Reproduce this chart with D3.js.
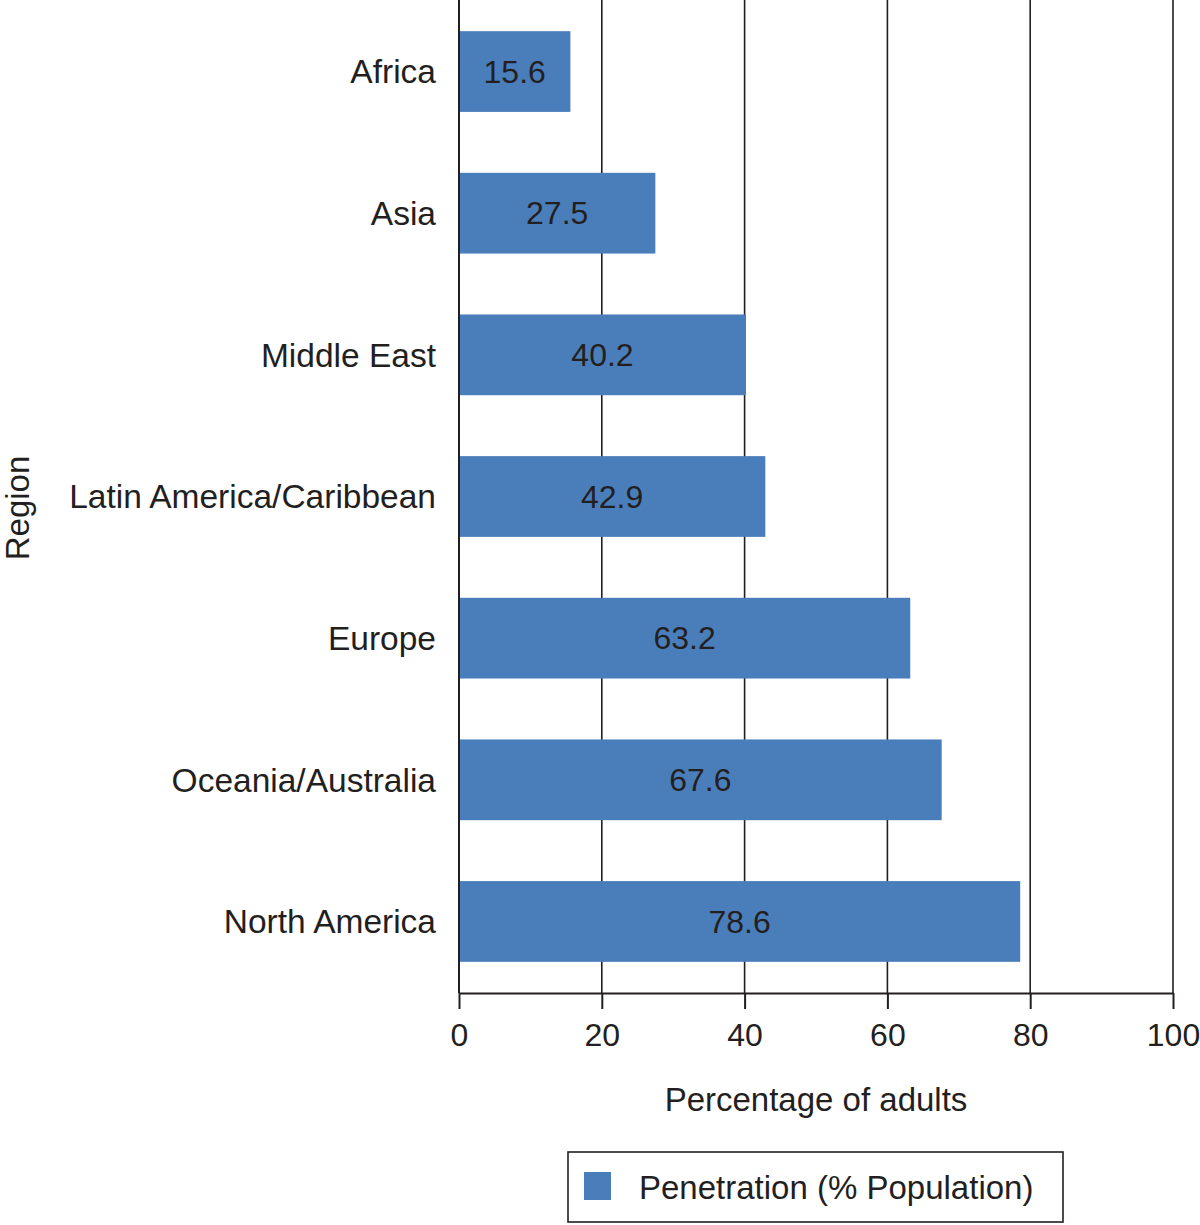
<!DOCTYPE html>
<html>
<head>
<meta charset="utf-8">
<script src="https://cdn.jsdelivr.net/npm/d3@7"></script>
<style>
  body { margin: 0; background: #fff; }
  svg { display: block; font-family: "Liberation Sans", Arial, sans-serif; }
</style>
</head>
<body>
<svg></svg>
<script>
// data
var regions = ['Africa', 'Asia', 'Middle East', 'Latin America/Caribbean', 'Europe', 'Oceania/Australia', 'North America'];
var penetration = [15.6, 27.5, 40.2, 42.9, 63.2, 67.6, 78.6];
var xTicks = [0, 20, 40, 60, 80, 100];
var seriesName = 'Penetration (% Population)';

var W = 1200, H = 1225;
var plotLeft = 459, plotRight = 1173, plotTop = 0, plotBottom = 993;
var barColor = '#4a7ebb';
var ink = '#231f20';

var svg = d3.select('svg').attr('width', W).attr('height', H);

var x = d3.scaleLinear().domain([0, 100]).range([plotLeft, plotRight]);
var y = d3.scaleBand().domain(regions).range([plotTop, plotBottom])
  .paddingInner(0.43).paddingOuter(0.22);

// vertical grid lines
svg.append('g').selectAll('line').data(xTicks).enter().append('line')
  .attr('x1', function(d) { return x(d); })
  .attr('x2', function(d) { return x(d); })
  .attr('y1', plotTop).attr('y2', plotBottom)
  .attr('stroke', ink).attr('stroke-width', 1.6);

// bars
var rows = regions.map(function(r, i) { return {region: r, value: penetration[i]}; });
svg.append('g').selectAll('rect').data(rows).enter().append('rect')
  .attr('x', x(0))
  .attr('y', function(d) { return y(d.region); })
  .attr('width', function(d) { return x(d.value) - x(0); })
  .attr('height', y.bandwidth())
  .attr('fill', barColor);

// value labels
svg.append('g').selectAll('text').data(rows).enter().append('text')
  .attr('x', function(d) { return (x(0) + x(d.value)) / 2; })
  .attr('y', function(d) { return y(d.region) + y.bandwidth() / 2; })
  .attr('dy', '0.35em')
  .attr('text-anchor', 'middle')
  .attr('font-size', 32)
  .attr('fill', ink)
  .text(function(d) { return d.value.toFixed(1); });

// left axis line
svg.append('line')
  .attr('x1', x(0)).attr('x2', x(0)).attr('y1', plotTop).attr('y2', plotBottom)
  .attr('stroke', ink).attr('stroke-width', 2);

// category labels
svg.append('g').selectAll('text').data(regions).enter().append('text')
  .attr('x', 436)
  .attr('y', function(d) { return y(d) + y.bandwidth() / 2; })
  .attr('dy', '0.35em')
  .attr('text-anchor', 'end')
  .attr('font-size', 33.5)
  .attr('fill', ink)
  .text(function(d) { return d; });

// bottom axis
var xAxis = svg.append('g')
  .attr('transform', 'translate(0,' + plotBottom + ')')
  .call(d3.axisBottom(x).tickValues(xTicks).tickSize(16).tickPadding(14).tickSizeOuter(0));
xAxis.select('.domain').attr('stroke', ink).attr('stroke-width', 2);
xAxis.selectAll('.tick line').attr('stroke', ink).attr('stroke-width', 2);
xAxis.selectAll('.tick text')
  .attr('font-family', '"Liberation Sans", Arial, sans-serif')
  .attr('font-size', 32).attr('fill', ink);

// axis titles
svg.append('text')
  .attr('x', (plotLeft + plotRight) / 2).attr('y', 1111)
  .attr('text-anchor', 'middle').attr('font-size', 33).attr('fill', ink)
  .text('Percentage of adults');

svg.append('text')
  .attr('transform', 'translate(29,508) rotate(-90)')
  .attr('text-anchor', 'middle').attr('font-size', 33).attr('fill', ink)
  .text('Region');

// legend
var legend = svg.append('g').attr('transform', 'translate(568,1152)');
legend.append('rect')
  .attr('width', 495).attr('height', 70)
  .attr('fill', '#fff').attr('stroke', ink).attr('stroke-width', 1.6);
legend.append('rect')
  .attr('x', 16).attr('y', 20).attr('width', 27).attr('height', 28)
  .attr('fill', barColor);
legend.append('text')
  .attr('x', 71).attr('y', 35).attr('dy', '0.35em')
  .attr('font-size', 33).attr('fill', ink)
  .text(seriesName);
</script>
</body>
</html>
